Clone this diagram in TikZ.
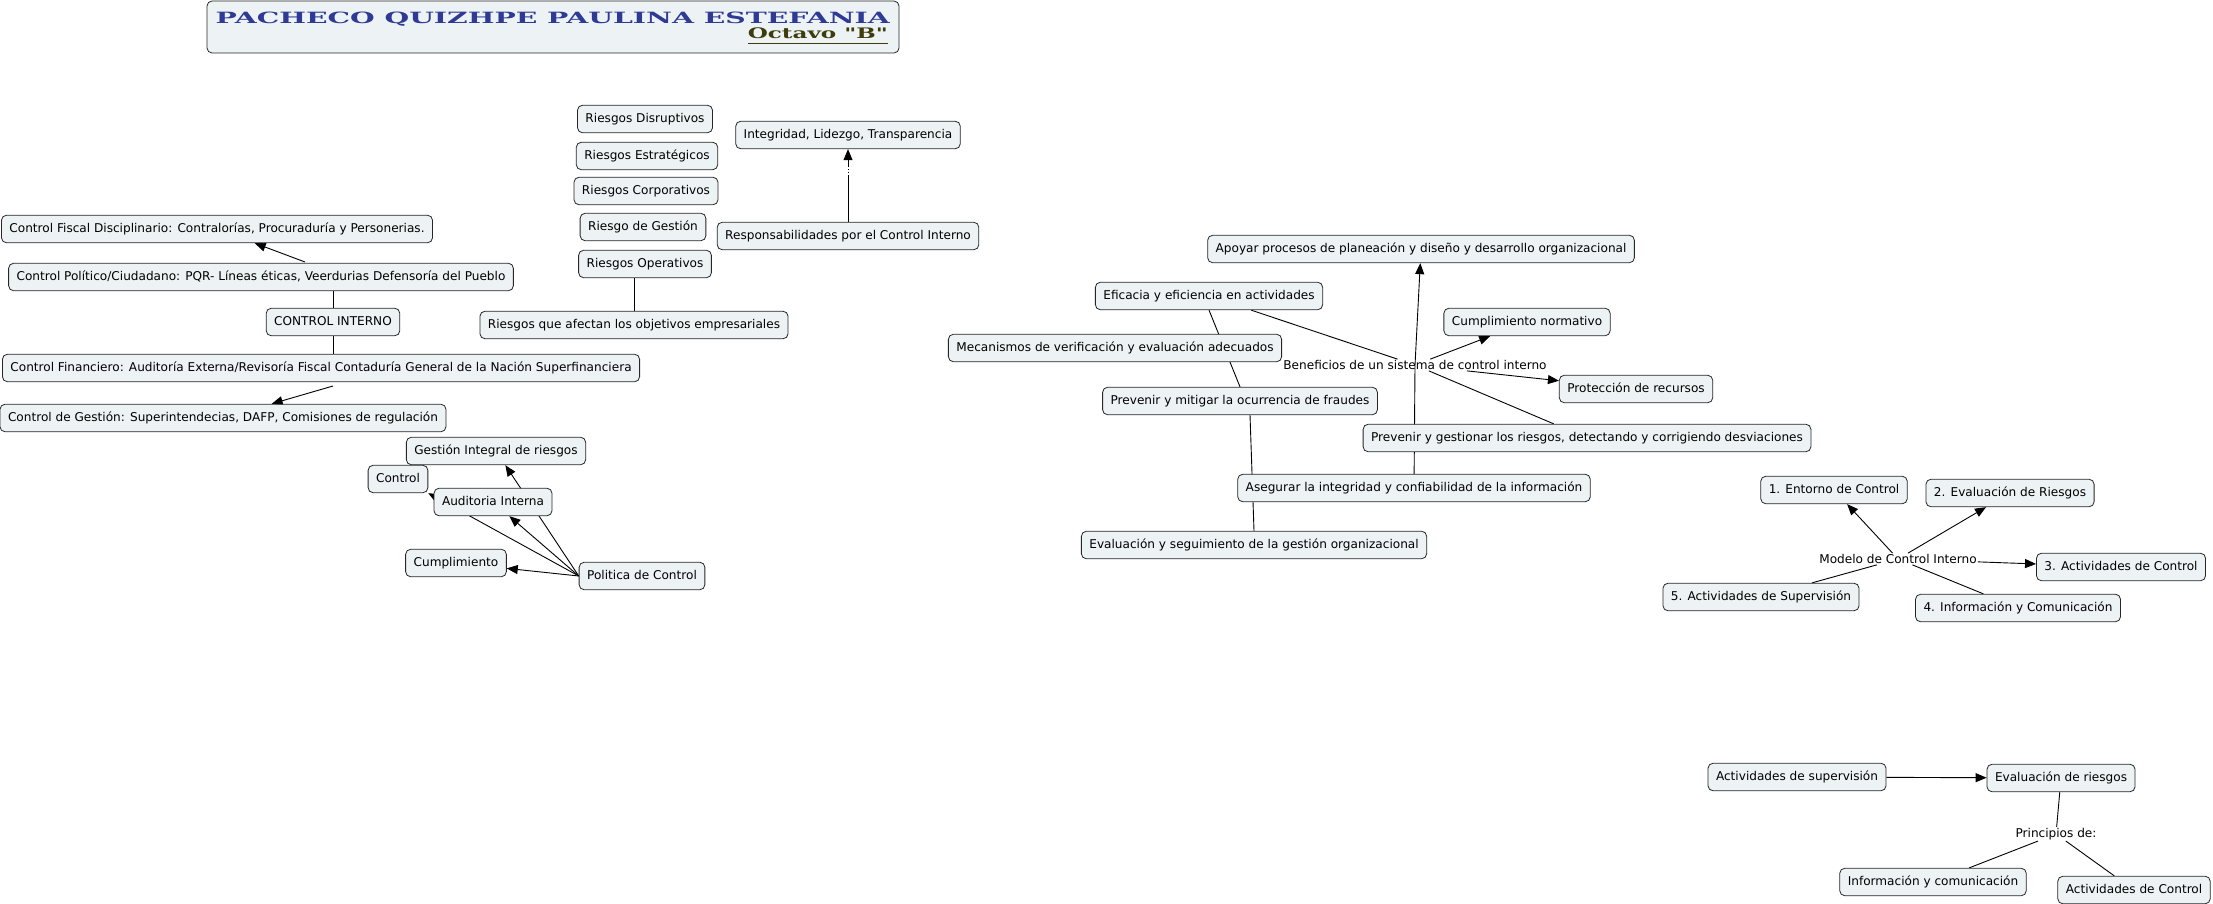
\documentclass[tikz,border=0pt]{standalone}
\usepackage{graphicx}
\usepackage{fontspec}
\setmainfont{DejaVu Sans}
\newfontfamily\titlefont{DejaVu Serif}
\usetikzlibrary{arrows.meta,backgrounds}
\definecolor{conceptfill}{HTML}{EDF3F5}
\definecolor{titleblue}{HTML}{2E3A94}
\definecolor{titleolive}{HTML}{3D3D0C}

\begin{document}
\begin{tikzpicture}[x=1pt,y=1pt]
\tikzstyle{every node}+=[font=\fontsize{12.1}{14}\selectfont]
\tikzstyle{concept}=[draw=black!85, fill=conceptfill, rounded corners=5pt, inner xsep=8pt, inner ysep=8pt, text height=9pt, text depth=2.5pt, line width=0.8pt]
\tikzstyle{phrase}=[inner sep=1pt]
\tikzstyle{link}=[line width=0.9pt]
\tikzstyle{arrow}=[line width=0.9pt, -{Triangle[length=11pt,width=9pt]}]
\useasboundingbox (0,0) rectangle (2213,-904);
% title
\node [concept, minimum width=692pt, minimum height=52pt] (title) at (553,-27) {};
\node [anchor=base east, inner sep=0pt, text=titleblue] (author) at (890,-24) {\titlefont\bfseries\resizebox{674pt}{\height}{\fontsize{15.5}{15.5}\selectfont PACHECO QUIZHPE PAULINA ESTEFANIA}};
\node [anchor=base east, inner sep=0pt, text=titleolive] (course) at (888,-39) {\titlefont\bfseries\resizebox{140pt}{\height}{\fontsize{14.5}{14.5}\selectfont\underline{Octavo "B"\rule[-3pt]{0pt}{1pt}}}};
% control interno
\node [concept] (cfiscal) at (217,-229) {Control Fiscal Disciplinario: Contralorías, Procuraduría y Personerias.};
\node [concept] (cpol) at (261,-277) {Control Político/Ciudadano: PQR- Líneas éticas, Veerdurias Defensoría del Pueblo};
\node [concept] (cint) at (333,-322) {CONTROL INTERNO};
\node [concept] (cfin) at (321,-368) {Control Financiero: Auditoría Externa/Revisoría Fiscal Contaduría General de la Nación Superfinanciera};
\node [concept] (cges) at (223,-418) {Control de Gestión: Superintendecias, DAFP, Comisiones de regulación};
\node [concept] (gint) at (496,-451) {Gestión Integral de riesgos};
\node [concept] (ctrl) at (398,-479) {Control};
\node [concept] (aud) at (493,-502) {Auditoria Interna};
\node [concept] (cumpl) at (456,-563) {Cumplimiento};
\node [concept] (pol) at (642,-576) {Politica de Control};
% riesgos
\node [concept] (rdis) at (645,-119) {Riesgos Disruptivos};
\node [concept] (rest) at (647,-156) {Riesgos Estratégicos};
\node [concept] (rcor) at (646,-191) {Riesgos Corporativos};
\node [concept] (rges) at (643,-227) {Riesgo de Gestión};
\node [concept] (rope) at (645,-264) {Riesgos Operativos};
\node [concept] (robj) at (634,-325) {Riesgos que afectan los objetivos empresariales};
\node [concept] (integ) at (848,-135) {Integridad, Lidezgo, Transparencia};
\node [concept] (resp) at (848,-236) {Responsabilidades por el Control Interno};
% beneficios
\node [concept] (apoyo) at (1421,-249) {Apoyar procesos de planeación y diseño y desarrollo organizacional};
\node [concept] (efic) at (1209,-296) {Eficacia y eficiencia en actividades};
\node [concept] (cnorm) at (1527,-322) {Cumplimiento normativo};
\node [concept] (meca) at (1115,-348) {Mecanismos de verificación y evaluación adecuados};
\node [phrase] (benef) at (1415,-365) {Beneficios de un sistema de control interno};
\node [concept] (prot) at (1636,-389) {Protección de recursos};
\node [concept] (mitig) at (1240,-401) {Prevenir y mitigar la ocurrencia de fraudes};
\node [concept] (gest) at (1587,-438) {Prevenir y gestionar los riesgos, detectando y corrigiendo desviaciones};
\node [concept] (aseg) at (1414,-488) {Asegurar la integridad y confiabilidad de la información};
\node [concept] (evalg) at (1254,-545) {Evaluación y seguimiento de la gestión organizacional};
% modelo
\node [concept] (entorno) at (1834,-490) {1. Entorno de Control};
\node [concept] (evalr) at (2010,-493) {2. Evaluación de Riesgos};
\node [phrase] (modelo) at (1898,-559) {Modelo de Control Interno};
\node [concept] (actc) at (2121,-567) {3. Actividades de Control};
\node [concept] (sup5) at (1761,-597) {5. Actividades de Supervisión};
\node [concept] (info4) at (2018,-608) {4. Información y Comunicación};
% principios
\node [concept] (asup) at (1797,-777) {Actividades de supervisión};
\node [concept] (eriesg) at (2061,-778) {Evaluación de riesgos};
\node [phrase] (princ) at (2056,-834) {Principios de:};
\node [concept] (infoc) at (1933,-882) {Información y comunicación};
\node [concept] (actctl) at (2134,-890) {Actividades de Control};
\begin{pgfonlayer}{background}
\coordinate (cpoltop) at (305,-262);
\coordinate (cfinlow) at (333,-386);
\draw [arrow] (cpoltop) -- (cfiscal);
\draw [link] (cint.north) -- (cint.north |- cpol.south);
\draw [link] (cint.south) -- (cint.south |- cfin.north);
\draw [arrow] (cfinlow) -- (cges);
\draw [arrow] (pol.west) -- (gint);
\draw [arrow] (pol.west) -- (aud);
\draw [arrow] (pol.west) -- (ctrl.south east);
\draw [arrow] (pol.west) -- (cumpl);
\draw [link] (robj.north) -- (robj.north |- rope.south);
\coordinate (respgap) at (848,-176);
\coordinate (respdot) at (848,-166);
\draw [link] (resp) -- (respgap);
\draw [link, dotted] (respgap) -- (respdot);
\draw [arrow] (respdot) -- (integ);
\draw [link] (benef) -- (efic);
\draw [arrow] (benef.center) -- (apoyo);
\draw [link] (benef.center) -- (aseg);
\draw [arrow] (benef) -- (cnorm);
\draw [arrow] ([xshift=52pt]benef.south) -- (prot);
\draw [link] (benef) -- (gest);
\draw [link] (efic.south) -- (mitig.north);
\draw [link] ([xshift=10pt]mitig.south) -- (evalg.north);
\draw [arrow] (modelo) -- (entorno);
\draw [arrow] (modelo) -- (evalr);
\draw [arrow] (modelo) -- (actc);
\draw [link] (modelo) -- (sup5);
\draw [link] (modelo) -- (info4);
\draw [arrow] (asup) -- (eriesg);
\draw [link] (eriesg) -- (princ);
\draw [link] (princ) -- (infoc);
\draw [link] (princ) -- (actctl);
\end{pgfonlayer}
\end{tikzpicture}
\end{document}
